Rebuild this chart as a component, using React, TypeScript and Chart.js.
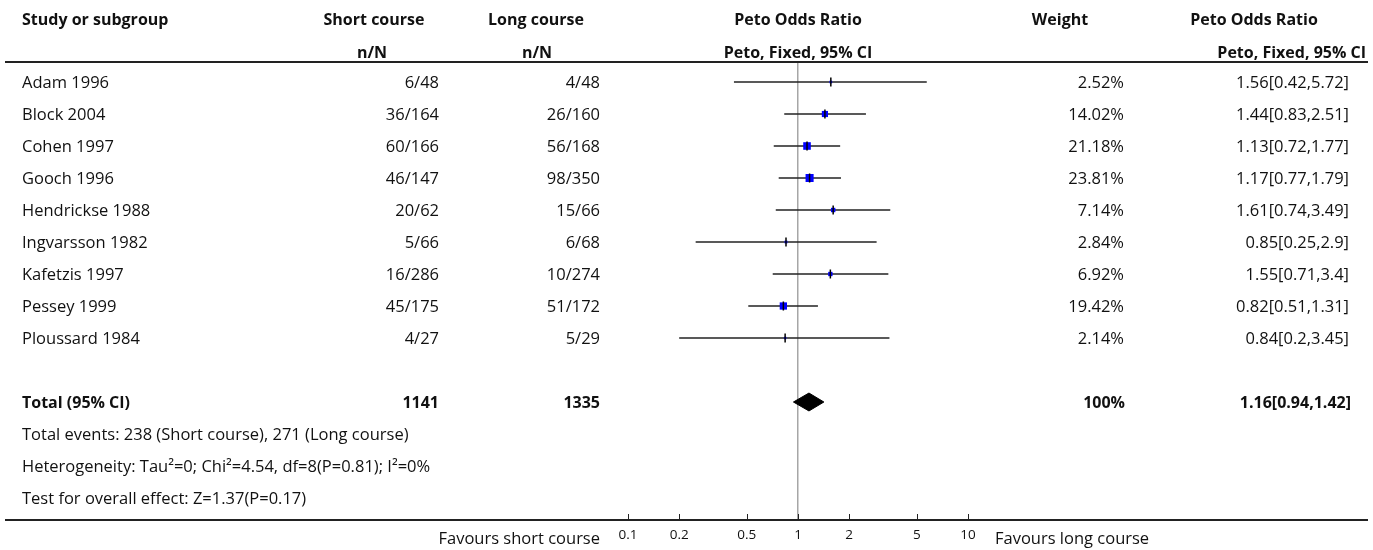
import React, { useEffect, useRef } from "react";
import { Chart, registerables } from "chart.js";

Chart.register(...registerables);

// ---------- data ----------
const studies = [
  "Adam 1996",
  "Block 2004",
  "Cohen 1997",
  "Gooch 1996",
  "Hendrickse 1988",
  "Ingvarsson 1982",
  "Kafetzis 1997",
  "Pessey 1999",
  "Ploussard 1984",
];
const shortEvents = [6, 36, 60, 46, 20, 5, 16, 45, 4];
const shortTotals = [48, 164, 166, 147, 62, 66, 286, 175, 27];
const longEvents = [4, 26, 56, 98, 15, 6, 10, 51, 5];
const longTotals = [48, 160, 168, 350, 66, 68, 274, 172, 29];
const weights = [2.52, 14.02, 21.18, 23.81, 7.14, 2.84, 6.92, 19.42, 2.14];
const oddsRatios = [1.56, 1.44, 1.13, 1.17, 1.61, 0.85, 1.55, 0.82, 0.84];
const ciLower = [0.42, 0.83, 0.72, 0.77, 0.74, 0.25, 0.71, 0.51, 0.2];
const ciUpper = [5.72, 2.51, 1.77, 1.79, 3.49, 2.9, 3.4, 1.31, 3.45];

const totalLabel = "Total (95% CI)";
const totalShort = 1141;
const totalLong = 1335;
const totalWeight = "100%";
const pooledOR = 1.16;
const pooledLower = 0.94;
const pooledUpper = 1.42;

const footnotes = [
  "Total events: 238 (Short course), 271 (Long course)",
  "Heterogeneity: Tau\u00B2=0; Chi\u00B2=4.54, df=8(P=0.81); I\u00B2=0%",
  "Test for overall effect: Z=1.37(P=0.17)",
];

const xTicks = [0.1, 0.2, 0.5, 1, 2, 5, 10];
const favoursLeft = "Favours short course";
const favoursRight = "Favours long course";

// ---------- layout / style ----------
const W = 1373;
const H = 550;
const FONT = '"Open Sans", "Noto Sans", sans-serif';
const BODY = 16.5;
const TOTAL_ROW = studies.length + 1;
const ROW_PX = 32;

function App() {
  const ref = useRef<HTMLCanvasElement | null>(null);

  useEffect(() => {
    if (!ref.current) return;

    const tablePlugin = {
      id: "forestTable",
      afterDraw(chart: any) {
        const { ctx, chartArea } = chart;
        const xs = chart.scales.x;
        const ys = chart.scales.y;
        ctx.save();

        const hline = (x1: number, y: number, x2: number) => {
          ctx.beginPath();
          ctx.moveTo(x1, y);
          ctx.lineTo(x2, y);
          ctx.stroke();
        };
        ctx.strokeStyle = "#222";
        ctx.lineWidth = 2;
        hline(5, chartArea.top, 1368);
        hline(5, chartArea.bottom, 1368);

        // tick marks pointing up from the axis line
        ctx.lineWidth = 1;
        xs.ticks.forEach((t: any) => {
          const px = Math.round(xs.getPixelForValue(t.value)) + 0.5;
          ctx.beginPath();
          ctx.moveTo(px, chartArea.bottom);
          ctx.lineTo(px, chartArea.bottom - 6);
          ctx.stroke();
        });

        const text = (
          s: string,
          x: number,
          row: number,
          align: CanvasTextAlign,
          bold = false,
          size = BODY
        ) => {
          ctx.font = `${bold ? "bold " : ""}${size}px ${FONT}`;
          ctx.textAlign = align;
          ctx.textBaseline = "alphabetic";
          ctx.fillStyle = "#111";
          ctx.fillText(s, x, ys.getPixelForValue(row) + size * 0.36);
        };

        // headers
        const h1 = -1.95;
        const h2 = -0.92;
        const HB = 16;
        text("Study or subgroup", 22, h1, "left", true, HB);
        text("Short course", 374, h1, "center", true, HB);
        text("n/N", 372, h2, "center", true, HB);
        text("Long course", 536, h1, "center", true, HB);
        text("n/N", 537, h2, "center", true, HB);
        text("Peto Odds Ratio", 798, h1, "center", true, HB);
        text("Peto, Fixed, 95% CI", 798, h2, "center", true, HB);
        text("Weight", 1060, h1, "center", true, HB);
        text("Peto Odds Ratio", 1254, h1, "center", true, HB);
        text("Peto, Fixed, 95% CI", 1366, h2, "right", true, HB);

        // study rows
        studies.forEach((s, i) => {
          text(s, 22, i, "left");
          text(`${shortEvents[i]}/${shortTotals[i]}`, 439, i, "right");
          text(`${longEvents[i]}/${longTotals[i]}`, 600, i, "right");
          text(`${weights[i].toFixed(2)}%`, 1124, i, "right");
          text(`${oddsRatios[i]}[${ciLower[i]},${ciUpper[i]}]`, 1349, i, "right");
        });

        // total row
        text(totalLabel, 22, TOTAL_ROW, "left", true, HB);
        text(String(totalShort), 439, TOTAL_ROW, "right", true, HB);
        text(String(totalLong), 600, TOTAL_ROW, "right", true, HB);
        text(totalWeight, 1125, TOTAL_ROW, "right", true, HB);
        text(`${pooledOR}[${pooledLower},${pooledUpper}]`, 1351, TOTAL_ROW, "right", true, HB);

        footnotes.forEach((f, k) => text(f, 22, TOTAL_ROW + 1 + k, "left"));

        // favours labels
        const favRow = (538 - 82) / ROW_PX;
        text(favoursLeft, 600, favRow, "right");
        text(favoursRight, 995, favRow, "left");

        ctx.restore();
      },
    };

    const ciSets = studies.map((s, i) => ({
      type: "line" as const,
      label: `${s} CI`,
      data: [
        { x: ciLower[i], y: i },
        { x: ciUpper[i], y: i },
      ],
      showLine: true,
      borderColor: "#222",
      borderWidth: 1.6,
      pointRadius: 0,
      order: 3,
    }));

    const chart = new Chart(ref.current, {
      type: "scatter",
      data: {
        datasets: [
          {
            label: "estimate",
            data: studies.map((_, i) => ({ x: oddsRatios[i], y: i })),
            pointStyle: "line",
            pointRotation: 90,
            pointRadius: 4.5,
            pointBorderWidth: 1.5,
            borderColor: "#000",
            backgroundColor: "#000",
            order: 0,
          } as any,
          {
            label: "weight",
            data: studies.map((_, i) => ({ x: oddsRatios[i], y: i })),
            pointStyle: "rect",
            pointRadius: weights.map((w) => (1.65 * Math.sqrt(w)) / Math.SQRT2),
            pointBorderWidth: 0,
            borderWidth: 0,
            backgroundColor: "#0000ff",
            borderColor: "#0000ff",
            order: 1,
          } as any,
          ...ciSets,
          {
            type: "line",
            label: "pooled",
            data: [
              { x: pooledLower, y: TOTAL_ROW },
              { x: pooledOR, y: TOTAL_ROW - 0.28 },
              { x: pooledUpper, y: TOTAL_ROW },
              { x: pooledOR, y: TOTAL_ROW + 0.28 },
              { x: pooledLower, y: TOTAL_ROW },
            ],
            showLine: true,
            fill: "shape",
            backgroundColor: "#000",
            borderColor: "#000",
            borderWidth: 1,
            pointRadius: 0,
            order: 4,
          } as any,
        ],
      },
      options: {
        animation: false,
        responsive: false,
        devicePixelRatio: 1,
        events: [],
        layout: { padding: { left: 458, right: W - 1138, top: 62, bottom: 0 } },
        plugins: {
          legend: { display: false },
          tooltip: { enabled: false },
        },
        scales: {
          x: {
            type: "logarithmic",
            min: 0.01,
            max: 100,
            afterBuildTicks: (scale: any) => {
              scale.ticks = xTicks.map((v) => ({ value: v }));
            },
            afterFit: (scale: any) => {
              scale.height = 30;
            },
            ticks: {
              autoSkip: false,
              maxRotation: 0,
              padding: 7,
              color: "#111",
              font: { family: FONT, size: 13.5 },
              callback: (v: any) => String(v),
            },
            grid: {
              display: true,
              drawOnChartArea: true,
              drawTicks: false,
              lineWidth: 1.5,
              color: (c: any) =>
                c.tick && c.tick.value === 1 ? "#a6a6a6" : "rgba(0,0,0,0)",
            },
            border: { display: false },
          },
          y: {
            type: "linear",
            display: false,
            reverse: true,
            min: (62 - 82) / ROW_PX,
            max: (520 - 82) / ROW_PX,
          },
        },
      },
      plugins: [tablePlugin],
    } as any);

    return () => chart.destroy();
  }, []);

  return (
    <div style={{ position: "absolute", left: 0, top: 0, width: W, height: H, background: "#fff" }}>
      <canvas ref={ref} width={W} height={H} style={{ display: "block" }} />
    </div>
  );
}

export default App;
